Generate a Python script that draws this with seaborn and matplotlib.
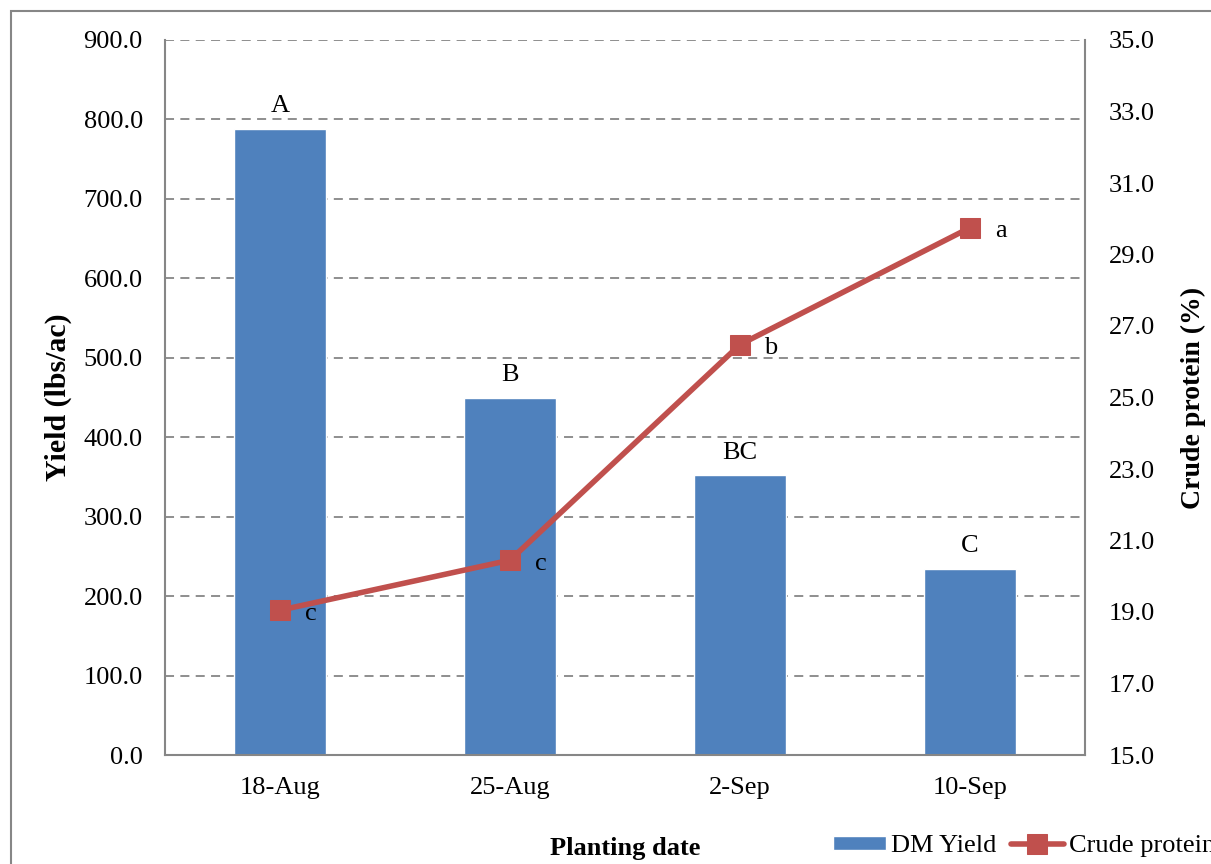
import numpy as np
import pandas as pd
import matplotlib
matplotlib.use("Agg")
import matplotlib.pyplot as plt
import seaborn as sns
from matplotlib.patches import Rectangle

dates = ["18-Aug", "25-Aug", "2-Sep", "10-Sep"]
dm_yield = [788.0, 450.0, 352.0, 234.0]
crude_protein = [19.05, 20.45, 26.48, 29.75]
yield_letters = ["A", "B", "BC", "C"]
cp_letters = ["c", "c", "b", "a"]
yield_ticks = [0, 100, 200, 300, 400, 500, 600, 700, 800, 900]
cp_ticks = [15, 17, 19, 21, 23, 25, 27, 29, 31, 33, 35]

BLUE = "#4F81BD"
RED = "#C0504D"
GRAY = "#868686"
FS = 19

sns.set_theme(style="white")
plt.rcParams["font.family"] = ["Liberation Serif", "DejaVu Serif"]
plt.rcParams["text.color"] = "black"
plt.rcParams["axes.labelcolor"] = "black"
plt.rcParams["xtick.color"] = "black"
plt.rcParams["ytick.color"] = "black"

fig = plt.figure(figsize=(12.11, 8.64), dpi=100)
ax = fig.add_axes([165/1211, 1-755/864, 920/1211, 715/864])

df = pd.DataFrame({"date": dates, "yield": dm_yield, "cp": crude_protein,
                   "pos": np.arange(len(dates))})

sns.barplot(data=df, x="date", y="yield", color=BLUE, saturation=1,
            width=0.4, ax=ax, label="DM Yield", zorder=2)
if ax.get_legend() is not None:
    ax.get_legend().remove()
ax.set_xlim(-0.5, len(dates) - 0.5)
ax.set_ylim(0, 900)
ax.set_yticks(yield_ticks)
ax.set_yticklabels([f"{v:.1f}" for v in yield_ticks])
ax.yaxis.grid(True, linestyle=(0, (5, 3.5)), color=GRAY, linewidth=1.3)
ax.xaxis.grid(False)
ax.set_axisbelow(True)
ax.tick_params(axis="y", length=0, pad=16, labelsize=FS, labelcolor="black")
ax.tick_params(axis="x", length=0, pad=16, labelsize=FS, labelcolor="black")
ax.set_xlabel("Planting date", fontsize=FS, fontweight="bold", color="black")
ax.set_ylabel("Yield (lbs/ac)", fontsize=21.5, fontweight="bold", color="black")
ax.xaxis.set_label_coords(0.5, (755-826)/715 - 0.015)
ax.yaxis.set_label_coords((72-165)/920, 0.5)
for s in ["top", "right"]:
    ax.spines[s].set_visible(False)
for s in ["left", "bottom"]:
    ax.spines[s].set_color(GRAY)
    ax.spines[s].set_linewidth(1.5)

for i, (v, t) in enumerate(zip(dm_yield, yield_letters)):
    ax.annotate(t, (i, v), xytext=(0, 12), textcoords="offset points",
                ha="center", va="baseline", fontsize=FS, color="black")

ax2 = ax.twinx()
sns.lineplot(data=df, x="pos", y="cp", color=RED, linewidth=4, marker="s",
             markersize=15, markeredgecolor=RED, ax=ax2, label="Crude protein",
             legend=False, zorder=3)
ax2.set_ylim(15, 35)
ax2.set_yticks(cp_ticks)
ax2.set_yticklabels([f"{v:.1f}" for v in cp_ticks])
ax2.tick_params(axis="y", length=0, pad=17, labelsize=FS, labelcolor="black")
ax2.set_ylabel("Crude protein (%)", fontsize=20, fontweight="bold", color="black")
ax2.yaxis.set_label_coords((1181-165)/920, 0.5)
ax2.set_xlabel("")
for s in ["top", "left", "bottom"]:
    ax2.spines[s].set_visible(False)
ax2.spines["right"].set_color(GRAY)
ax2.spines["right"].set_linewidth(1.5)
ax2.set_xlim(-0.5, len(dates) - 0.5)

for i, (v, t) in enumerate(zip(crude_protein, cp_letters)):
    ax2.annotate(t, (i, v), xytext=(22, -7), textcoords="offset points",
                 ha="center", va="baseline", fontsize=FS, color="black")

h1, l1 = ax.get_legend_handles_labels()
h2, l2 = ax2.get_legend_handles_labels()
fig.legend(h1 + h2, l1 + l2, loc="center left",
           bbox_to_anchor=(833/1211, 1-846/864), ncol=2, frameon=False,
           fontsize=FS, handlelength=2.0, handleheight=0.45,
           handletextpad=0.2, columnspacing=0.55, borderaxespad=0,
           borderpad=0, labelcolor="black")

fig.patches.append(Rectangle((11/1211, -0.5), 2, 0.5 + 1 - 11/864,
                             transform=fig.transFigure, fill=False,
                             edgecolor=GRAY, linewidth=1.5))

fig.savefig("out.png", dpi=100)
